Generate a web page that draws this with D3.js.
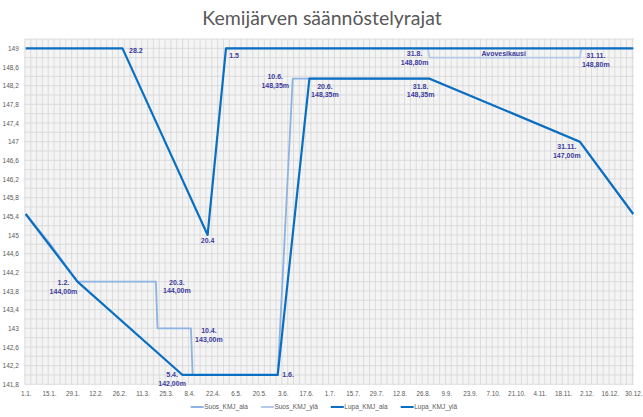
<!DOCTYPE html>
<html lang="fi">
<head>
<meta charset="UTF-8">
<script src="https://d3js.org/d3.v7.min.js"></script>
<style>
  body { margin: 0; background: #fff; }
  svg { display: block; font-family: "Liberation Sans", Arial, sans-serif; }
  .tick text { fill: #595959; }
</style>
</head>
<body>
<svg width="643" height="417"></svg>
<script>

// ---- data ----
var xTickLabels = ["1.1.","15.1.","29.1.","12.2.","26.2.","11.3.","25.3.","8.4.","22.4.","6.5.","20.5.","3.6.","17.6.",
  "1.7.","15.7.","29.7.","12.8.","26.8.","9.9.","23.9.","7.10.","21.10.","4.11.","18.11.","2.12.","16.12.","30.12."];
var yTicks = [141.8,142.2,142.6,143,143.4,143.8,144.2,144.6,145,145.4,145.8,146.2,146.6,147,147.4,147.8,148.2,148.6,149];

var suosAlaDates  = ["1.1.","15.1.","1.2.","20.3.","21.3.","10.4.","11.4.","1.6.","10.6.","31.8.","29.11.","31.12."];
var suosAlaValues = [145.45,144.84,144,144,143,143,142,142,148.35,148.35,147,145.45];

var suosYlaDates  = ["1.5.","30.8.","31.8.","29.11.","30.11.","31.12."];
var suosYlaValues = [149,149,148.8,148.8,149,149];

var lupaAlaDates  = ["1.1.","1.2.","5.4.","1.6.","20.6.","31.8.","29.11.","31.12."];
var lupaAlaValues = [145.45,144,142,142,148.35,148.35,147,145.45];

var lupaYlaDates  = ["1.1.","28.2.","20.4.","1.5.","31.12."];
var lupaYlaValues = [149,149,145,149,149];

var seriesNames = ["Suos_KMJ_ala","Suos_KMJ_ylä","Lupa_KMJ_ala","Lupa_KMJ_ylä"];

var notes = [
  {date:"28.2.",  value:149,    lines:["28.2"]},
  {date:"1.5.",   value:149,    lines:["1.5"]},
  {date:"20.4.",  value:145,    lines:["20.4"]},
  {date:"1.2.",   value:144,    lines:["1.2.","144,00m"]},
  {date:"20.3.",  value:144,    lines:["20.3.","144,00m"]},
  {date:"10.4.",  value:143,    lines:["10.4.","143,00m"]},
  {date:"5.4.",   value:142,    lines:["5.4.","142,00m"]},
  {date:"1.6.",   value:142,    lines:["1.6."]},
  {date:"10.6.",  value:148.35, lines:["10.6.","148,35m"]},
  {date:"20.6.",  value:148.35, lines:["20.6.","148,35m"]},
  {date:"31.8.",  value:148.8,  lines:["31.8.","148,80m"]},
  {date:"15.10.", value:148.8,  lines:["Avovesikausi"]},
  {date:"29.11.", value:148.8,  lines:["31.11.","148,80m"]},
  {date:"31.8.",  value:148.35, lines:["31.8.","148,35m"]},
  {date:"29.11.", value:147,    lines:["31.11.","147,00m"]}
];

// ---- helpers ----
var monthStart = [0,31,59,90,120,151,181,212,243,273,304,334];
function dayIndex(s) {
  var p = s.split(".");
  return monthStart[+p[1] - 1] + (+p[0]) - 1;
}
function zipSeries(dates, values) {
  return dates.map(function(d, i) { return {day: dayIndex(d), value: values[i]}; });
}

var svg = d3.select("svg");

var plot = {left: 24.8, right: 634, top: 39, bottom: 384.3};

var x = d3.scaleLinear().domain([0, 364]).range([25.7, 633.2]);
var y = d3.scaleLinear().domain([141.8, 149.2]).range([plot.bottom, plot.top]);

// title
svg.append("text")
  .attr("x", 322).attr("y", 25)
  .attr("text-anchor", "middle")
  .style("font-family", "Lato, 'Open Sans', sans-serif")
  .style("font-size", "19.5px")
  .style("fill", "#595959")
  .text("Kemijärven säännöstelyrajat");

// plot background + grid
svg.append("rect")
  .attr("x", plot.left).attr("y", plot.top)
  .attr("width", plot.right - plot.left).attr("height", plot.bottom - plot.top)
  .attr("fill", "#f4f4f4");

var grid = svg.append("g").attr("stroke", "#d6d6d6").attr("stroke-width", 0.8);
d3.range(141.8, 149.3, 0.2).forEach(function(v) {
  grid.append("line")
    .attr("x1", plot.left).attr("x2", plot.right)
    .attr("y1", y(v)).attr("y2", y(v));
});
d3.range(-0.5, 365, 3.5).forEach(function(d) {
  grid.append("line")
    .attr("x1", x(d)).attr("x2", x(d))
    .attr("y1", plot.top).attr("y2", plot.bottom);
});

// axes
var xAxis = d3.axisBottom(x)
  .tickValues(xTickLabels.map(function(_, i) { return i * 14; }))
  .tickFormat(function(d, i) { return xTickLabels[i]; })
  .tickSize(0).tickPadding(7);
var gx = svg.append("g")
  .attr("transform", "translate(0," + plot.bottom + ")")
  .call(xAxis);
gx.select(".domain").remove();
gx.selectAll("text").style("font-size", "6.3px").style("font-family", "'Liberation Sans', Arial, sans-serif");

var yAxis = d3.axisLeft(y)
  .tickValues(yTicks)
  .tickFormat(function(d) { return String(+d.toFixed(1)).replace(".", ","); })
  .tickSize(0).tickPadding(6);
var gy = svg.append("g")
  .attr("transform", "translate(" + plot.left + ",0)")
  .call(yAxis);
gy.select(".domain").remove();
gy.selectAll("text").style("font-size", "6.5px").style("font-family", "'Liberation Sans', Arial, sans-serif");

// lines
var series = [
  {name: seriesNames[0], data: zipSeries(suosAlaDates, suosAlaValues), color: "#8db3e2", width: 1.8},
  {name: seriesNames[1], data: zipSeries(suosYlaDates, suosYlaValues), color: "#b4cbeb", width: 1.8},
  {name: seriesNames[2], data: zipSeries(lupaAlaDates, lupaAlaValues), color: "#0a6fc2", width: 2.2},
  {name: seriesNames[3], data: zipSeries(lupaYlaDates, lupaYlaValues), color: "#0a6fc2", width: 2.2}
];

var line = d3.line()
  .x(function(d) { return x(d.day); })
  .y(function(d) { return y(d.value); });

svg.selectAll(".series")
  .data(series)
  .enter()
  .append("path")
    .attr("class", "series")
    .attr("fill", "none")
    .attr("stroke", function(d) { return d.color; })
    .attr("stroke-width", function(d) { return d.width; })
    .attr("stroke-linejoin", "round")
    .attr("d", function(d) { return line(d.data); });

// annotations: [dx, dy of first baseline, anchor]
var noteOffsets = [
  [6.5, 4.7, "start"],
  [3.3, 10, "start"],
  [0, 8.5, "middle"],
  [-14, 3.7, "middle"],
  [21, 3, "middle"],
  [18, 5, "middle"],
  [-10.5, 2.5, "middle"],
  [4.5, 2.5, "start"],
  [-17.5, 0.5, "middle"],
  [15.5, 10.3, "middle"],
  [-15, -1.2, "middle"],
  [-1, -1.7, "middle"],
  [16, 0.8, "middle"],
  [-9, 10.3, "middle"],
  [-13, 7.5, "middle"]
];

var noteG = svg.append("g")
  .style("font-size", "7px")
  .style("font-weight", "bold")
  .style("fill", "#3c3c9e");

notes.forEach(function(n, i) {
  var off = noteOffsets[i];
  var t = noteG.append("text")
    .attr("x", x(dayIndex(n.date)) + off[0])
    .attr("y", y(n.value) + off[1])
    .attr("text-anchor", off[2]);
  n.lines.forEach(function(s, j) {
    t.append("tspan")
      .attr("x", x(dayIndex(n.date)) + off[0])
      .attr("dy", j === 0 ? 0 : 8.5)
      .text(s);
  });
});

// legend
var legend = svg.append("g").attr("transform", "translate(0,407)");
var lx = 190.7;
series.forEach(function(s) {
  legend.append("line")
    .attr("x1", lx).attr("x2", lx + 13)
    .attr("y1", 0).attr("y2", 0)
    .attr("stroke", s.color).attr("stroke-width", 2);
  var t = legend.append("text")
    .attr("x", lx + 13.5).attr("y", 2.3)
    .style("font-size", "6.5px")
    .style("fill", "#595959")
    .text(s.name);
  lx += 13.5 + t.node().getComputedTextLength() + 13;
});

</script>
</body>
</html>
